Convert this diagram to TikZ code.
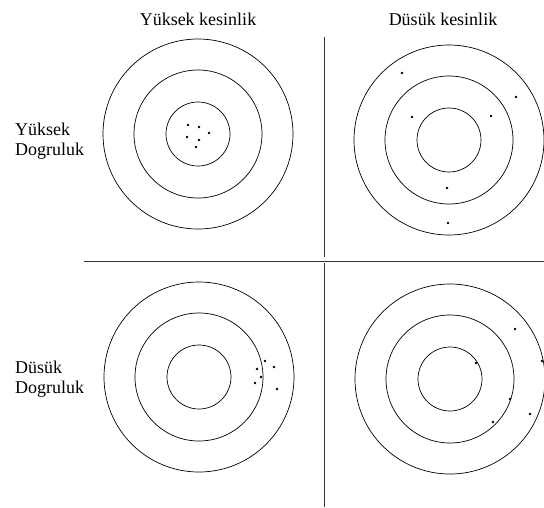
\documentclass[tikz,border=0pt]{standalone}
\usepackage{fontspec}
\setmainfont{Liberation Serif}
\usetikzlibrary{positioning}

\begin{document}
\begin{tikzpicture}[x=1pt,y=-1pt,font=\fontsize{18}{20}\selectfont]
\tikzset{ring/.style={draw=black,line width=0.7pt},
  shot/.style={fill=black},
  rule/.style={draw=black!80,line width=0.9pt}}
\useasboundingbox (0,0) rectangle (544,507);
% column and row labels
\node[anchor=base] (colhigh) at (198,25) {Yüksek kesinlik};
\node[anchor=base] (collow) at (443,25) {Düsük kesinlik};
\node[anchor=base west,inner sep=0pt] (rowhighA) at (15,135) {Yüksek};
\node[anchor=base west,inner sep=0pt] (rowhighB) at (15,155) {Dogruluk};
\node[anchor=base west,inner sep=0pt] (rowlowA) at (15,373) {Düsük};
\node[anchor=base west,inner sep=0pt] (rowlowB) at (15,393) {Dogruluk};
% dividing lines
\coordinate (vtop) at (324,37);
\coordinate (vmidA) at (324,257);
\coordinate (vmidB) at (324,263);
\coordinate (vbot) at (324,507);
\coordinate (hleft) at (84,261);
\coordinate (hright) at (544,261);
\draw[rule] (vtop) -- (vmidA);
\draw[rule] (vmidB) -- (vbot);
\draw[rule] (hleft) -- (hright);
% targets
\foreach \cx/\cy in {198/134, 449/140, 199/377, 450/379} {
  \foreach \r in {32,64,95}
    \draw[ring] (\cx,\cy) circle[radius=\r];
}
% shots
\foreach \px/\py in {188/125, 199/127, 209/133, 187/137, 199/140, 196/147,
  402/73, 516/97, 412/117, 491/116, 447/188, 448/223,
  265/361, 257/369, 274/367, 261/377, 255/383, 277/389,
  515/329, 542/361, 476/363, 510/399, 530/414, 493/422}
  \fill[shot] (\px,\py) circle[radius=1.3];
\end{tikzpicture}
\end{document}
